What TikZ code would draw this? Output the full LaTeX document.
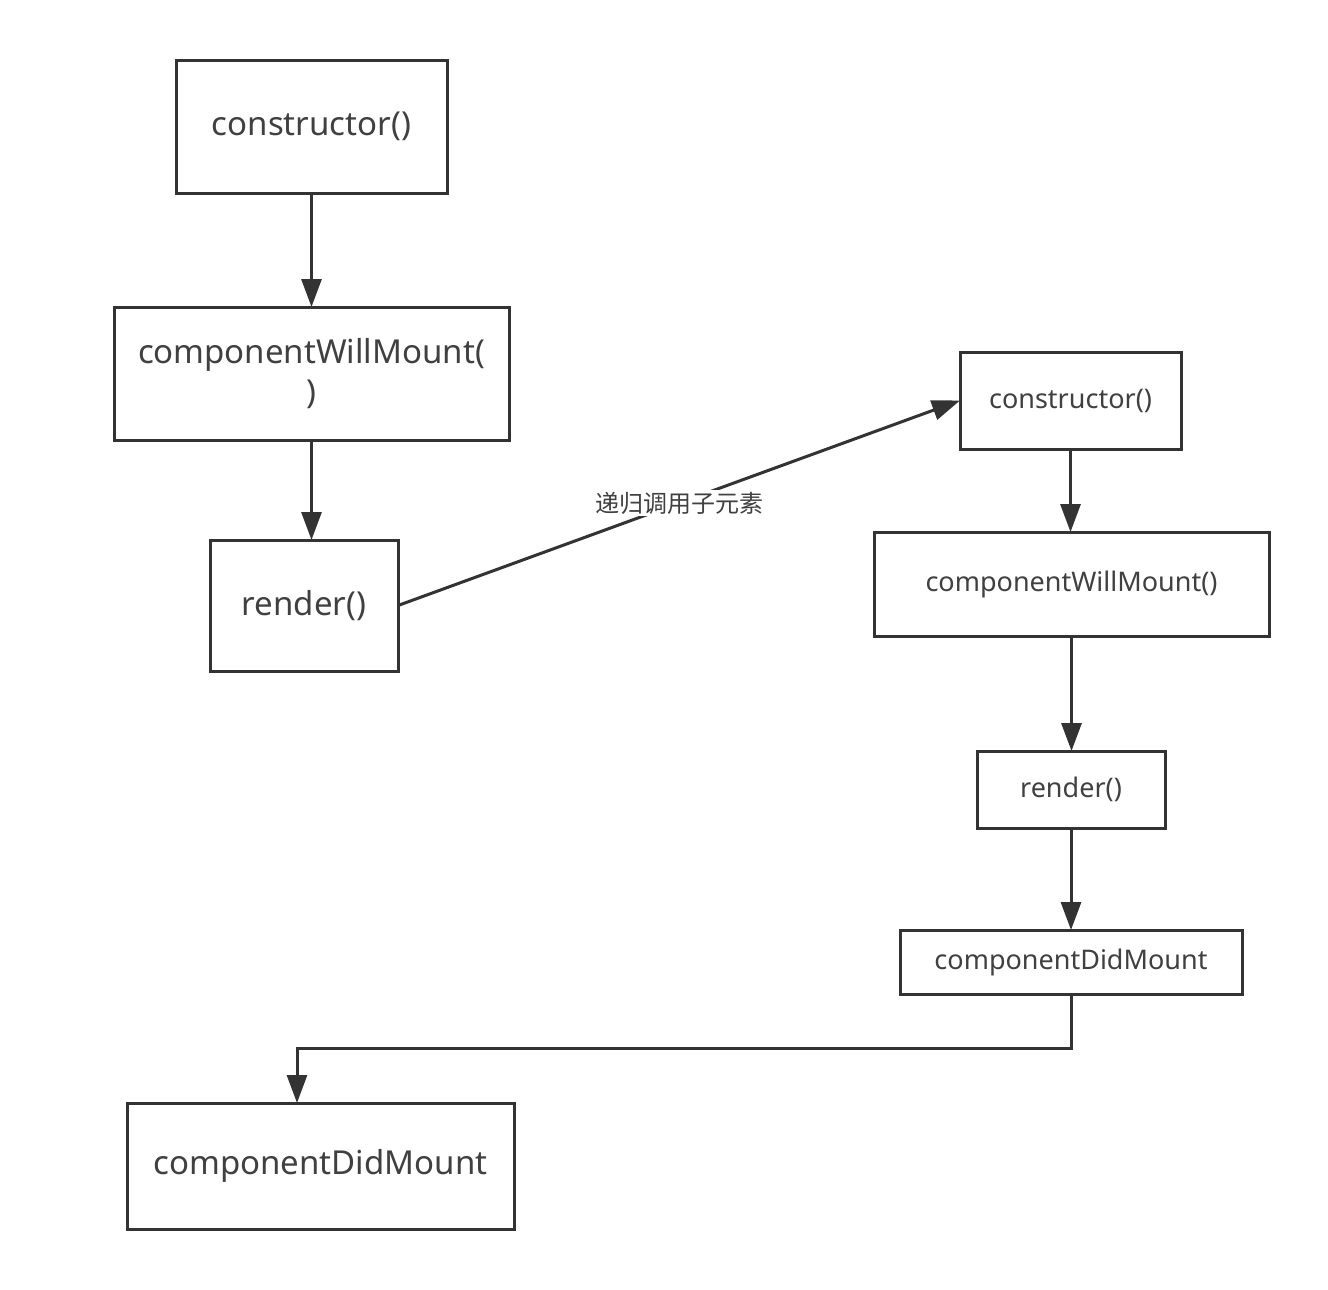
\documentclass[tikz,border=0pt]{standalone}
\usepackage{fontspec}
\setmainfont{Noto Sans}
\newfontfamily\cjk{Noto Sans CJK SC}
\usetikzlibrary{arrows.meta}
\definecolor{ln}{HTML}{333333}
\definecolor{tx}{HTML}{404040}
\tikzset{
  box/.style={draw=ln, line width=1.5pt, rectangle, inner sep=0pt, outer sep=0pt, text=tx, align=center},
  big/.style={font=\fontsize{16.5}{20}\selectfont},
  small/.style={font=\fontsize{13.5}{16}\selectfont},
  flow/.style={draw=ln, line width=1.5pt, -{Triangle[length=14pt,width=10pt]}},
}
\begin{document}
\begin{tikzpicture}[x=0.5pt,y=-0.5pt]
\useasboundingbox[fill=white] (0,0) rectangle (1328,1290);
\node[box,big,minimum width=135.5pt,minimum height=66.5pt] (c1) at (311.5,126.5) {constructor()};
\node[box,big,minimum width=197.5pt,minimum height=66.5pt] (w1) at (311.5,373.5) {componentWillMount(\\)};
\node[box,big,minimum width=94pt,minimum height=65.5pt] (r1) at (304,605.5) {render()};
\node[box,small,minimum width=110.5pt,minimum height=48.5pt] (c2) at (1070.5,400.5) {constructor()};
\node[box,small,minimum width=197.5pt,minimum height=52pt] (w2) at (1071.5,584) {componentWillMount()};
\node[box,small,minimum width=94pt,minimum height=38.5pt] (r2) at (1071,789.5) {render()};
\node[box,small,minimum width=171pt,minimum height=32pt] (d2) at (1071,962) {componentDidMount};
\node[box,big,minimum width=193.5pt,minimum height=63pt] (d1) at (320.5,1166) {componentDidMount};
\coordinate (turn) at (297,1048);
\draw[flow] (c1.south) -- (c1.south |- w1.north);
\draw[flow] (w1.south) -- (w1.south |- r1.north);
\draw[flow] (r1.east) -- node[pos=0.5, fill=white, inner sep=1pt, text=tx, font=\cjk\fontsize{12}{14}\selectfont] {递归调用子元素} (c2.west);
\draw[flow] (c2.south) -- (c2.south |- w2.north);
\draw[flow] (w2.south) -- (w2.south |- r2.north);
\draw[flow] (r2.south) -- (r2.south |- d2.north);
\draw[flow] (d2.south) |- (turn) -- (turn |- d1.north);
\end{tikzpicture}
\end{document}
